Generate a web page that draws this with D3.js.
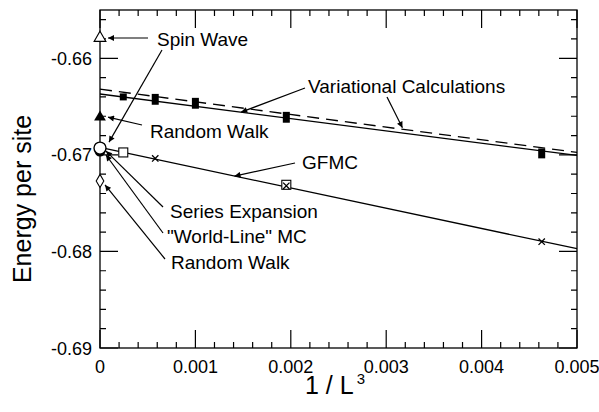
<!DOCTYPE html>
<html>
<head>
<meta charset="utf-8">
<script src="https://cdn.jsdelivr.net/npm/d3@7"></script>
<style>
  body { margin: 0; background: #fff; }
  text { font-family: "Liberation Sans", Arial, Helvetica, sans-serif; fill: #000; }
</style>
</head>
<body>
<div id="chart"></div>
<script>
// datos
const varX = [0.000244, 0.000579, 0.001, 0.001953, 0.00463];
const varE = [-0.6640, -0.66425, -0.66466, -0.66611, -0.66985];
const varErr = [0, 0.0002, 0.0002, 0.0002, 0.00015];

const gfmcSqX = [0.000244, 0.001953];
const gfmcSqE = [-0.66975, -0.6731];
const gfmcCrossX = [0.000579, 0.001953, 0.00463];
const gfmcCrossE = [-0.67037, -0.6732, -0.67899];

// lineas de ajuste (x, E)
const varFitX = [0, 0.005], varFitE = [-0.6637, -0.67006];
const varDashX = [0, 0.005], varDashE = [-0.6632, -0.66975];
const gfmcFitX = [0, 0.005], gfmcFitE = [-0.66923, -0.67972];

// valores extrapolados en 1/L^3 = 0
const spinWave = -0.6579;
const rwUpper = -0.6661;
const series = -0.6693;
const worldLine = -0.6696;
const rwLower = -0.6727;

const xTicks = [0, 0.001, 0.002, 0.003, 0.004, 0.005];
const xTickLabels = ["0", "0.001", "0.002", "0.003", "0.004", "0.005"];
const yTicks = [-0.69, -0.68, -0.67, -0.66];
const yTickLabels = ["-0.69", "-0.68", "-0.67", "-0.66"];

// Dimensiones
const width = 599;
const height = 412;
const margin = { top: 10, bottom: 64, right: 22, left: 100 };
const innerW = width - margin.left - margin.right;
const innerH = height - margin.top - margin.bottom;

const svg = d3.select("#chart").append("svg")
    .attr("width", width)
    .attr("height", height);

const g = svg.append("g")
    .attr("transform", `translate(${margin.left},${margin.top})`);

const x = d3.scaleLinear().domain([0, 0.005]).range([0, innerW]);
const y = d3.scaleLinear().domain([-0.69, -0.655]).range([innerH, 0]);

const minorX = d3.range(0, 26).map(i => i * 0.0002);
const minorY = d3.range(0, 18).map(i => -0.69 + i * 0.002);

const MAJ = 18, MIN = 6;

// ticks hacia adentro en los cuatro lados (un solo path)
const isMajor = (arr, v) => arr.some(t => Math.abs(t - v) < 1e-9);
let tickPath = "";
minorX.forEach(v => {
    const len = isMajor(xTicks, v) ? MAJ : MIN;
    const px = x(v).toFixed(2);
    tickPath += `M${px},${innerH}V${innerH - len}M${px},0V${len}`;
});
minorY.forEach(v => {
    const len = isMajor(yTicks, v) ? MAJ : MIN;
    const py = y(v).toFixed(2);
    tickPath += `M0,${py}H${len}M${innerW},${py}H${innerW - len}`;
});
g.append("path")
    .attr("d", tickPath)
    .attr("fill", "none")
    .attr("stroke", "#000")
    .attr("stroke-width", 1.2);

// etiquetas de los ejes
g.append("g").selectAll("text").data(xTicks).join("text")
    .attr("x", d => x(d))
    .attr("y", innerH + 25)
    .attr("text-anchor", "middle")
    .attr("font-size", 18)
    .text((d, i) => xTickLabels[i]);

g.append("g").selectAll("text").data(yTicks).join("text")
    .attr("x", -8)
    .attr("y", d => y(d) + 6.5)
    .attr("text-anchor", "end")
    .attr("font-size", 18)
    .text((d, i) => yTickLabels[i]);

g.append("rect")
    .attr("width", innerW).attr("height", innerH)
    .attr("fill", "none").attr("stroke", "#000").attr("stroke-width", 1.3);

// lineas de ajuste
const line = d3.line().x(d => x(d[0])).y(d => y(d[1]));
const fits = [
    { xs: varFitX, es: varFitE, dash: null },
    { xs: varDashX, es: varDashE, dash: "12,7" },
    { xs: gfmcFitX, es: gfmcFitE, dash: null },
];
g.selectAll(".fit").data(fits).join("path")
    .attr("class", "fit")
    .attr("d", d => line(d.xs.map((v, i) => [v, d.es[i]])))
    .attr("fill", "none")
    .attr("stroke", "#000")
    .attr("stroke-width", 1.3)
    .attr("stroke-dasharray", d => d.dash);

// puntos variacionales (cuadrados llenos con barra)
const varData = varX.map((v, i) => ({ x: v, e: varE[i], err: varErr[i] }));
g.selectAll(".vsq").data(varData).join("rect")
    .attr("class", "vsq")
    .attr("x", d => x(d.x) - 3.5)
    .attr("width", 7)
    .attr("y", d => y(d.e + d.err) - 3.5)
    .attr("height", d => y(d.e - d.err) - y(d.e + d.err) + 7)
    .attr("fill", "#000");

// GFMC cuadrados abiertos
g.selectAll(".gsq").data(gfmcSqX.map((v, i) => ({ x: v, e: gfmcSqE[i] }))).join("rect")
    .attr("class", "gsq")
    .attr("x", d => x(d.x) - 4.5)
    .attr("y", d => y(d.e) - 4.5)
    .attr("width", 9).attr("height", 9)
    .attr("fill", "#fff").attr("stroke", "#000").attr("stroke-width", 1.1);

// GFMC cruces
const cross = d3.symbol().type(d3.symbolX).size(28);
g.selectAll(".gx").data(gfmcCrossX.map((v, i) => ({ x: v, e: gfmcCrossE[i] }))).join("path")
    .attr("class", "gx")
    .attr("transform", d => `translate(${x(d.x)},${y(d.e)})`)
    .attr("d", cross)
    .attr("fill", "none").attr("stroke", "#000").attr("stroke-width", 1.3);

// valores extrapolados
const tri = d3.symbol().type(d3.symbolTriangle).size(60);
const dia = d3.symbol().type(d3.symbolDiamond).size(50);
g.append("path").attr("transform", `translate(${x(0)},${y(spinWave)})`)
    .attr("d", tri).attr("fill", "#fff").attr("stroke", "#000").attr("stroke-width", 1.1);
g.append("path").attr("transform", `translate(${x(0)},${y(rwUpper)})`)
    .attr("d", tri).attr("fill", "#000");
g.append("circle").attr("cx", x(0)).attr("cy", y(worldLine)).attr("r", 5.5).attr("fill", "#000");
g.append("circle").attr("cx", x(0)).attr("cy", y(series)).attr("r", 6)
    .attr("fill", "#fff").attr("stroke", "#000").attr("stroke-width", 1.4);
g.append("path").attr("transform", `translate(${x(0)},${y(rwLower)})`)
    .attr("d", dia).attr("fill", "#fff").attr("stroke", "#000").attr("stroke-width", 1.1);

// anotaciones
svg.append("defs").append("marker")
    .attr("id", "arrow")
    .attr("viewBox", "0 0 10 10")
    .attr("refX", 10).attr("refY", 5)
    .attr("markerWidth", 9).attr("markerHeight", 6)
    .attr("markerUnits", "userSpaceOnUse")
    .attr("orient", "auto")
    .append("path").attr("d", "M0,0 L10,5 L0,10 Z").attr("fill", "#000");

const labels = ["Spin Wave", "Random Walk", "Variational Calculations", "GFMC",
    "Series Expansion", "\"World-Line\" MC", "Random Walk"];
const labelPos = [[157, 46], [150, 138], [308, 93], [302, 169], [170, 218], [167, 243], [171, 269]];

svg.selectAll(".lbl").data(labels).join("text")
    .attr("class", "lbl")
    .attr("x", (d, i) => labelPos[i][0])
    .attr("y", (d, i) => labelPos[i][1])
    .attr("font-size", 19)
    .text(d => d);

const X = v => margin.left + x(v);
const Y = v => margin.top + y(v);
const arrows = [
    [148, 38, X(0) + 8, Y(spinWave)],
    [162, 50, X(0) + 9, Y(series) - 6],
    [142, 125, X(0) + 8, Y(rwUpper)],
    [305, 88, X(0.00148), Y(-0.66557)],
    [387, 97, X(0.00317), Y(-0.6672)],
    [295, 163, X(0.00141), Y(-0.6722)],
    [163, 207, X(0) + 6, Y(series) + 3],
    [163, 233, X(0) + 6, Y(worldLine) + 4],
    [165, 259, X(0) + 5, Y(rwLower) + 4],
];
svg.selectAll(".arr").data(arrows).join("line")
    .attr("class", "arr")
    .attr("x1", d => d[0]).attr("y1", d => d[1])
    .attr("x2", d => d[2]).attr("y2", d => d[3])
    .attr("stroke", "#000").attr("stroke-width", 1.2)
    .attr("marker-end", "url(#arrow)");

// titulos de ejes
svg.append("text")
    .attr("transform", `translate(31,199) rotate(-90)`)
    .attr("text-anchor", "middle")
    .attr("font-size", 25)
    .text("Energy per site");

const xt = svg.append("text")
    .attr("x", 335).attr("y", 394)
    .attr("text-anchor", "middle")
    .attr("font-size", 25);
xt.append("tspan").text("1 / L");
xt.append("tspan").attr("dx", 3).attr("dy", -10).attr("font-size", 15).text("3");
</script>
</body>
</html>
